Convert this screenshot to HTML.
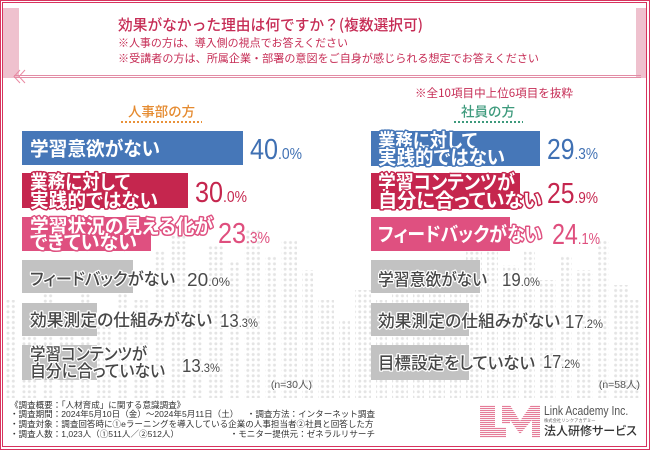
<!DOCTYPE html>
<html><head><meta charset="utf-8">
<style>
*{margin:0;padding:0;box-sizing:border-box}
html,body{width:650px;height:450px;overflow:hidden;background:#fff}
body{position:relative;font-family:"Liberation Sans","Noto Sans CJK JP",sans-serif}
.a{position:absolute;white-space:nowrap}
.jp{font-family:"Noto Sans CJK JP","Liberation Sans",sans-serif}
.palt{font-feature-settings:"palt"}
.bar{position:absolute}
.ft{position:absolute;white-space:nowrap;font-family:"Liberation Sans","Noto Sans CJK JP",sans-serif;font-size:8.55px;line-height:9.8px;color:#333}
svg text{white-space:pre}
.lc{font-family:"Noto Sans CJK JP",sans-serif;font-feature-settings:"palt";font-size:19.5px;font-weight:bold;fill:#fff;stroke-width:3px;paint-order:stroke;stroke-linejoin:round}
.lg{font-family:"Noto Sans CJK JP",sans-serif;font-feature-settings:"palt";font-size:17px;font-weight:500;fill:#474747;stroke:#fff;stroke-width:2.5px;paint-order:stroke;stroke-linejoin:round}
.pc{font-family:"Liberation Sans",sans-serif;font-size:29px}
.pc tspan{font-size:16px}
.pg{font-family:"Liberation Sans",sans-serif;font-size:18px;fill:#4a4a4a;stroke:#fff;stroke-width:2px;paint-order:stroke}
.pg tspan{font-size:12px}
.hd{font-family:"Noto Sans CJK JP",sans-serif;fill:#c62c55}
</style></head><body>

<svg class="a" style="left:0;top:0" width="650" height="450">
<defs>
<pattern id="dt" patternUnits="userSpaceOnUse" width="5.33" height="5.33">
<circle cx="2.66" cy="2.66" r="1.5" fill="#e4e4e4"/>
</pattern>
<pattern id="st" patternUnits="userSpaceOnUse" width="4" height="2">
<rect x="0" y="0" width="4" height="1.1" fill="#e57c98"/>
</pattern>
</defs>
<g fill="url(#dt)">
<rect x="6" y="300" width="11" height="98"/>
<rect x="22" y="330" width="16" height="68"/>
<rect x="43" y="280" width="11" height="118"/>
<rect x="59" y="310" width="16" height="88"/>
<rect x="80" y="290" width="11" height="108"/>
<rect x="96" y="320" width="16" height="78"/>
<rect x="117" y="260" width="11" height="138"/>
<rect x="133" y="300" width="16" height="98"/>
<rect x="154" y="250" width="11" height="148"/>
<rect x="170" y="235" width="16" height="163"/>
<rect x="191" y="270" width="11" height="128"/>
<rect x="207" y="245" width="16" height="153"/>
<rect x="228" y="260" width="11" height="138"/>
<rect x="244" y="230" width="16" height="168"/>
<rect x="265" y="255" width="11" height="143"/>
<rect x="281" y="240" width="16" height="158"/>
<rect x="302" y="270" width="11" height="128"/>
<rect x="318" y="300" width="16" height="98"/>
<rect x="339" y="320" width="11" height="78"/>
<rect x="355" y="290" width="16" height="108"/>
<rect x="376" y="300" width="11" height="98"/>
<rect x="392" y="280" width="16" height="118"/>
<rect x="413" y="260" width="11" height="138"/>
<rect x="429" y="290" width="16" height="108"/>
<rect x="450" y="270" width="11" height="128"/>
<rect x="466" y="250" width="16" height="148"/>
<rect x="487" y="240" width="11" height="158"/>
<rect x="503" y="265" width="16" height="133"/>
<rect x="524" y="250" width="11" height="148"/>
<rect x="540" y="280" width="16" height="118"/>
<rect x="561" y="255" width="11" height="143"/>
<rect x="577" y="270" width="16" height="128"/>
<rect x="598" y="240" width="11" height="158"/>
<rect x="614" y="285" width="16" height="113"/>
<rect x="630" y="300" width="11" height="98"/>
</g>
<!-- header bands -->
<rect x="3" y="8" width="16" height="70" fill="#efc1ce"/>
<rect x="636" y="8" width="10" height="70" fill="#efc1ce"/>
<line x1="14" y1="75.5" x2="641" y2="75.5" stroke="#e28ca5" stroke-width="1"/>
<line x1="14" y1="77.5" x2="641" y2="77.5" stroke="#e28ca5" stroke-width="1"/>
<polyline points="20,70 14,76.5 20,83" fill="none" stroke="#ea8aa3" stroke-width="1"/>
<polyline points="25,70 19,76.5 25,83" fill="none" stroke="#ea8aa3" stroke-width="1"/>
<!-- logo mark -->
<g fill="url(#st)">
<rect x="480" y="405" width="15" height="33"/>
<rect x="495" y="427" width="11" height="11"/>
<polygon points="502,405 510,405 520,421 531,405 540,405 540,438 532,438 532,420 520,434 510,420 510,424 502,424"/>
</g>

<!-- header text -->
<text class="hd" x="118" y="30" font-size="15" font-weight="500" textLength="305" lengthAdjust="spacingAndGlyphs">効果がなかった理由は何ですか？(複数選択可)</text>
<text class="hd" x="118" y="46.5" font-size="11" textLength="230" lengthAdjust="spacingAndGlyphs">※人事の方は、導入側の視点でお答えください</text>
<text class="hd" x="118" y="62" font-size="11" textLength="421" lengthAdjust="spacingAndGlyphs">※受講者の方は、所属企業・部署の意図をご自身が感じられる想定でお答えください</text>
<text class="hd" x="415" y="97" font-size="11.5" textLength="158" lengthAdjust="spacingAndGlyphs">※全10項目中上位6項目を抜粋</text>
<text x="128" y="116.5" font-family="Noto Sans CJK JP, sans-serif" font-size="13.5" font-weight="500" fill="#e58a2f" textLength="67" lengthAdjust="spacingAndGlyphs">人事部の方</text>
<text x="461" y="116.5" font-family="Noto Sans CJK JP, sans-serif" font-size="13.5" font-weight="500" fill="#3d9a7c" textLength="54" lengthAdjust="spacingAndGlyphs">社員の方</text>
<line x1="121" y1="122" x2="202" y2="122" stroke="#e8923a" stroke-width="2" stroke-dasharray="2 2"/>
<line x1="454" y1="122" x2="523" y2="122" stroke="#3d9a7c" stroke-width="2" stroke-dasharray="2 2"/>

<!-- left bars -->
<rect x="22" y="131" width="221" height="34" fill="#4677b8"/>
<rect x="22" y="173" width="166" height="35" fill="#c5264e"/>
<rect x="22" y="217" width="129" height="34" fill="#df5080"/>
<rect x="22" y="260" width="111" height="33" fill="#c2c2c2"/>
<rect x="22" y="303" width="75" height="33" fill="#c2c2c2"/>
<rect x="22" y="345" width="75" height="35" fill="#c2c2c2"/>
<!-- right bars -->
<rect x="371" y="131" width="169" height="35" fill="#4677b8"/>
<rect x="371" y="173" width="149" height="36" fill="#c5264e"/>
<rect x="371" y="217" width="139" height="34" fill="#df5080"/>
<rect x="371" y="260" width="109" height="33" fill="#c2c2c2"/>
<rect x="371" y="303" width="98" height="33" fill="#c2c2c2"/>
<rect x="371" y="345" width="98" height="35" fill="#c2c2c2"/>

<!-- left labels -->
<text class="lc" stroke="#4677b8" x="30" y="155.4" textLength="130" lengthAdjust="spacingAndGlyphs">学習意欲がない</text>
<text class="lc" stroke="#c5264e" x="30" y="188.9" textLength="100" lengthAdjust="spacingAndGlyphs">業務に対して</text>
<text class="lc" stroke="#c5264e" x="30" y="206.9" textLength="128" lengthAdjust="spacingAndGlyphs">実践的ではない</text>
<text class="lc" stroke="#df5080" x="30" y="232.9" textLength="183" lengthAdjust="spacingAndGlyphs">学習状況の見える化が</text>
<text class="lc" stroke="#df5080" x="30" y="248.9" textLength="107" lengthAdjust="spacingAndGlyphs">できていない</text>
<text class="lg" x="30" y="285" textLength="145" lengthAdjust="spacingAndGlyphs">フィードバックがない</text>
<text class="lg" x="30" y="326" textLength="182" lengthAdjust="spacingAndGlyphs">効果測定の仕組みがない</text>
<text class="lg" x="30" y="360" textLength="117" lengthAdjust="spacingAndGlyphs">学習コンテンツが</text>
<text class="lg" x="30" y="377" textLength="135" lengthAdjust="spacingAndGlyphs">自分に合っていない</text>

<!-- right labels -->
<text class="lc" stroke="#4677b8" x="378" y="147.4" textLength="99" lengthAdjust="spacingAndGlyphs">業務に対して</text>
<text class="lc" stroke="#4677b8" x="378" y="163.9" textLength="127" lengthAdjust="spacingAndGlyphs">実践的ではない</text>
<text class="lc" stroke="#c5264e" x="378" y="188.9" textLength="137" lengthAdjust="spacingAndGlyphs">学習コンテンツが</text>
<text class="lc" stroke="#c5264e" x="378" y="206.9" textLength="164" lengthAdjust="spacingAndGlyphs">自分に合っていない</text>
<text class="lc" stroke="#df5080" x="378" y="240.9" textLength="164" lengthAdjust="spacingAndGlyphs">フィードバックがない</text>
<text class="lg" x="378" y="285.5" textLength="109" lengthAdjust="spacingAndGlyphs">学習意欲がない</text>
<text class="lg" x="378" y="327" textLength="182" lengthAdjust="spacingAndGlyphs">効果測定の仕組みがない</text>
<text class="lg" x="378" y="369" textLength="157" lengthAdjust="spacingAndGlyphs">目標設定をしていない</text>

<!-- left pct -->
<text class="pc" fill="#3f70b3" x="250" y="159" textLength="52" lengthAdjust="spacingAndGlyphs">40<tspan>.0%</tspan></text>
<text class="pc" fill="#c5264e" x="195" y="202" textLength="52" lengthAdjust="spacingAndGlyphs">30<tspan>.0%</tspan></text>
<text class="pc" fill="#df4f7e" x="218" y="243" textLength="52" lengthAdjust="spacingAndGlyphs">23<tspan>.3%</tspan></text>
<text class="pg" x="187" y="286" textLength="43" lengthAdjust="spacingAndGlyphs">20<tspan>.0%</tspan></text>
<text class="pg" x="220" y="327" textLength="38" lengthAdjust="spacingAndGlyphs">13<tspan>.3%</tspan></text>
<text class="pg" x="182" y="372" textLength="38" lengthAdjust="spacingAndGlyphs">13<tspan>.3%</tspan></text>
<!-- right pct -->
<text class="pc" fill="#3f70b3" x="547" y="159" textLength="51" lengthAdjust="spacingAndGlyphs">29<tspan>.3%</tspan></text>
<text class="pc" fill="#c5264e" x="547" y="203" textLength="51" lengthAdjust="spacingAndGlyphs">25<tspan>.9%</tspan></text>
<text class="pc" fill="#df4f7e" x="552" y="244" textLength="48" lengthAdjust="spacingAndGlyphs">24<tspan>.1%</tspan></text>
<text class="pg" x="502" y="286" textLength="38" lengthAdjust="spacingAndGlyphs">19<tspan>.0%</tspan></text>
<text class="pg" x="565" y="328" textLength="38" lengthAdjust="spacingAndGlyphs">17<tspan>.2%</tspan></text>
<text class="pg" x="543" y="368" textLength="37" lengthAdjust="spacingAndGlyphs">17<tspan>.2%</tspan></text>
</svg>

<!-- borders -->
<div class="a" style="left:0;top:0;width:650px;height:450px;border:1.5px solid #d8325e"></div>
<div class="a" style="left:2px;top:2px;width:645px;height:445px;border:1px solid #d8325e"></div>

<div class="a" style="right:338px;top:379px;font-size:10.5px;line-height:12px;color:#555;font-family:'Liberation Sans','Noto Sans CJK JP',sans-serif">(n=30人)</div>
<div class="a" style="right:10px;top:379px;font-size:10.5px;line-height:12px;color:#555;font-family:'Liberation Sans','Noto Sans CJK JP',sans-serif">(n=58人)</div>

<!-- footer -->
<div class="ft" style="left:10px;top:400.6px">《調査概要：「人材育成」に関する意識調査》</div>
<div class="ft" style="left:10px;top:410.4px">・調査期間：2024年5月10日（金）～2024年5月11日（土）</div>
<div class="ft" style="left:10px;top:420.2px">・調査対象：調査回答時に①eラーニングを導入している企業の人事担当者②社員と回答した方</div>
<div class="ft" style="left:10px;top:430px">・調査人数：1,023人（①511人／②512人）</div>
<div class="ft" style="right:275px;top:410.4px;text-align:right">・調査方法：インターネット調査</div>
<div class="ft" style="right:275px;top:430px;text-align:right">・モニター提供元：ゼネラルリサーチ</div>

<!-- logo text -->
<div class="a" style="left:544px;top:404px;font-size:12.5px;line-height:14px;color:#555;transform:scaleX(0.83);transform-origin:0 0">Link Academy Inc.</div>
<div class="a jp" style="left:544px;top:418px;font-size:4.3px;line-height:6px;color:#666">株式会社リンクアカデミー</div>
<div class="a jp palt" style="left:544px;top:423px;font-size:12px;line-height:16px;color:#333;font-weight:500">法人研修サービス</div>

</body></html>
